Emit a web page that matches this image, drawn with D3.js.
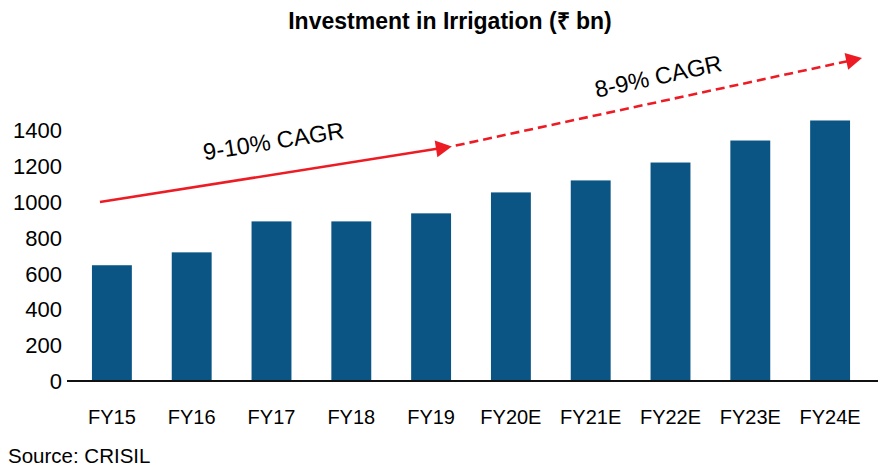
<!DOCTYPE html>
<html><head><meta charset="utf-8">
<script src="https://cdn.jsdelivr.net/npm/d3@7"></script>
<style>
body{margin:0;background:#fff;}
text{font-family:"Liberation Sans",Arial,Helvetica,sans-serif;}
</style></head>
<body><svg id="c" width="878" height="467"></svg>
<script>
const categories = ["FY15","FY16","FY17","FY18","FY19","FY20E","FY21E","FY22E","FY23E","FY24E"];
const values = [647, 719, 892, 892, 937, 1054, 1121, 1221, 1344, 1456];
const yTicks = [0,200,400,600,800,1000,1200,1400];
const title = "Investment in Irrigation (\u20B9 bn)";
const source = "Source: CRISIL";
// CAGR annotations: category anchor + offset (in band steps), value level
const cagrLabels = ["9-10% CAGR", "8-9% CAGR"];
const cagrFrom = [["FY15",-0.15,1000],["FY19",0.26,1311]];
const cagrTo   = [["FY19",0.26,1311],["FY24E",0.40,1805]];
const cagrDashed = [false, true];

const svg = d3.select("#c");
const x = d3.scaleBand().domain(categories).range([72,870]).paddingInner(0.5).paddingOuter(0.25);
const y = d3.scaleLinear().domain([0,1400]).range([381,130.5]);
const step = x.step();
const px = (c,o) => x(c) + x.bandwidth()/2 + o*step;

// title
svg.append("text").attr("x",450).attr("y",29).attr("text-anchor","middle")
  .attr("font-size",23).attr("font-weight","bold").text(title);

// bars
svg.append("g").selectAll("rect").data(categories).join("rect")
  .attr("x",d=>x(d)).attr("width",x.bandwidth())
  .attr("y",(d,i)=>y(values[i])).attr("height",(d,i)=>y(0)-y(values[i]))
  .attr("fill","#0b5585");

// y axis labels
const ya = svg.append("g").attr("transform","translate(62,0)")
  .call(d3.axisLeft(y).tickValues(yTicks).tickSize(0).tickPadding(0).tickFormat(d3.format("d")));
ya.select(".domain").remove();
ya.selectAll("text").attr("font-size",22).attr("fill","#000")
  .attr("font-family","'Liberation Sans',Arial,sans-serif").attr("dy","0.34em");

// x axis
const xa = svg.append("g").attr("transform","translate(0,381)")
  .call(d3.axisBottom(x).tickSize(0).tickPadding(29));
xa.select(".domain").remove();
xa.selectAll("text").attr("font-size",20).attr("fill","#000")
  .attr("font-family","'Liberation Sans',Arial,sans-serif");
svg.append("line").attr("x1",67).attr("x2",878).attr("y1",y(0)).attr("y2",y(0))
  .attr("stroke","#111").attr("stroke-width",2);

// CAGR arrows
const red = "#ed1c24";
cagrLabels.forEach((lab,i)=>{
  const x1 = px(cagrFrom[i][0],cagrFrom[i][1]), y1 = y(cagrFrom[i][2]);
  const x2 = px(cagrTo[i][0],cagrTo[i][1]), y2 = y(cagrTo[i][2]);
  const ang = Math.atan2(y2-y1,x2-x1);
  const L = 16, H = 8.5;
  const bx = x2 - L*Math.cos(ang), by = y2 - L*Math.sin(ang);
  const start = i===0 ? [x1,y1] : [x1 + 4*Math.cos(ang), y1 + 4*Math.sin(ang)];
  svg.append("line").attr("x1",start[0]).attr("y1",start[1]).attr("x2",bx+1*Math.cos(ang)).attr("y2",by+1*Math.sin(ang))
    .attr("stroke",red).attr("stroke-width",2.6)
    .attr("stroke-dasharray",cagrDashed[i]?"9,5":null);
  const nx = -Math.sin(ang), ny = Math.cos(ang);
  svg.append("path").attr("d",`M${x2},${y2}L${bx+nx*H},${by+ny*H}L${bx-nx*H},${by-ny*H}Z`).attr("fill",red);
  // label
  const t = i===0 ? 0.508 : 0.516;
  const mx = x1 + (x2-x1)*t, my = y1 + (y2-y1)*t;
  const off = i===0 ? 25 : 17;
  const lx = mx + off*Math.sin(ang), ly = my - off*Math.cos(ang);
  const deg = ang*180/Math.PI;
  svg.append("text").attr("transform",`translate(${lx},${ly}) rotate(${deg})`)
    .attr("text-anchor","middle").attr("font-size",23.5).attr("fill","#000").text(lab);
});

// source
svg.append("text").attr("x",8).attr("y",463).attr("font-size",20.5).attr("fill","#000").text(source);
</script></body></html>
